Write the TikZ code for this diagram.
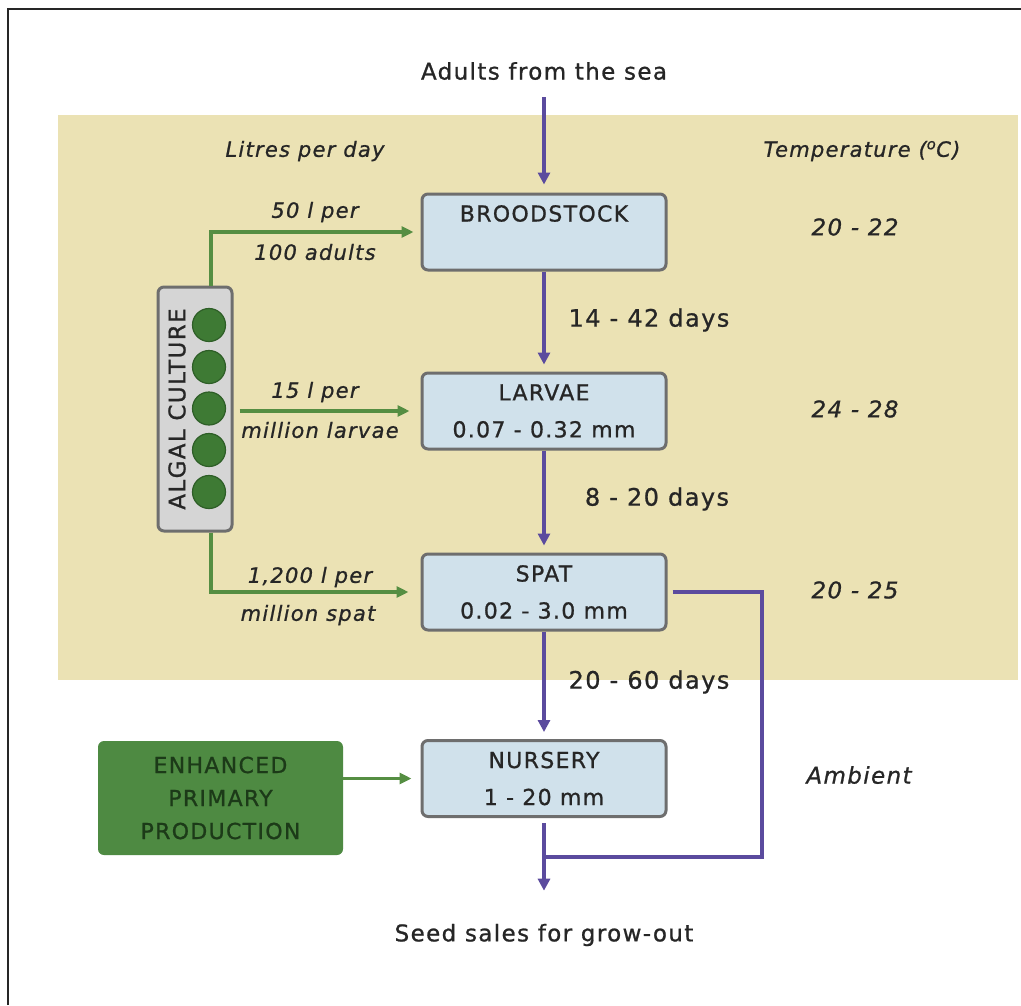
\documentclass[tikz,border=0pt]{standalone}
\usepackage{fontspec}
\setmainfont{DejaVu Sans}[LetterSpace=6, FakeBold=0.9]
\usetikzlibrary{arrows.meta,calc}
\definecolor{beige}{HTML}{EBE2B4}
\definecolor{boxblue}{HTML}{D0E1EB}
\definecolor{boxedge}{HTML}{6E6E6E}
\definecolor{purp}{HTML}{5B4B9E}
\definecolor{grn}{HTML}{558E42}
\definecolor{dkgrn}{HTML}{3E7A34}
\definecolor{circedge}{HTML}{2E5E27}
\definecolor{enhfill}{HTML}{4E8A42}
\definecolor{enhtext}{HTML}{1C3A18}
\definecolor{txt}{HTML}{262626}
\definecolor{algfill}{HTML}{D5D5D5}
\tikzset{
  stagebox/.style={draw=boxedge, line width=3pt, fill=boxblue, rounded corners=6pt,
    minimum width=244pt, minimum height=76pt, align=center, inner sep=0pt,
    font=\fontsize{22}{37}\selectfont, text=txt},
  plain/.style={inner sep=0pt, text=txt, font=\fontsize{23}{28}\selectfont},
  dayslbl/.style={inner sep=0pt, text=txt, font=\fontsize{24}{28}\selectfont},
  itlbl/.style={inner sep=0pt, text=txt, font=\fontsize{21}{26}\selectfont\itshape},
  templbl/.style={inner sep=0pt, text=txt, font=\fontsize{23}{26}\selectfont\itshape},
  pline/.style={draw=purp, line width=3.5pt, -{Triangle[length=12pt,width=12pt]}},
  ploop/.style={draw=purp, line width=3.5pt},
  gline/.style={draw=grn, line width=3.5pt, -{Triangle[length=12pt,width=11pt]}},
  algcirc/.style={circle, fill=dkgrn, draw=circedge, line width=1.2pt, minimum size=33pt, inner sep=0pt},
}
\begin{document}
\begin{tikzpicture}[x=1pt,y=-1pt]
\useasboundingbox (0,0) rectangle (1021,1005);
\fill[white] (0,0) rectangle (1021,1005);
% frame
\draw[line width=2pt, black!85] (8,1005) -- (8,9) -- (1021,9);
% beige hatchery area
\fill[beige] (58,115) rectangle (1018,680);

% headings
\node[plain] (adults) at (544,71) {Adults from the sea};
\node[itlbl] (litres) at (305,151) {Litres per day};
\node[itlbl] (temphead) at (862,151) {Temperature (\textsuperscript{o}C)};

% stages
\node[stagebox] (brood) at (544,232) {BROODSTOCK\\\phantom{0}};
\node[stagebox] (larv) at (544,411) {LARVAE\\0.07 - 0.32 mm};
\node[stagebox] (spat) at (544,592) {SPAT\\0.02 - 3.0 mm};
\node[stagebox] (nurs) at (544,778.5) {NURSERY\\1 - 20 mm};
\node[plain] (out) at (544,935) {Seed sales for grow-out};

% temperatures
\node[templbl] (t1) at (855,227) {20 - 22};
\node[templbl] (t2) at (855,409) {24 - 28};
\node[templbl] (t3) at (855,590) {20 - 25};
\node[templbl] (t4) at (859,775) {Ambient};

% durations
\node[dayslbl] (d1) at (649,320) {14 - 42 days};
\node[dayslbl] (d2) at (657,499) {8 - 20 days};
\node[dayslbl] (d3) at (649,682) {20 - 60 days};

% algal culture
\node[draw=boxedge, line width=3pt, fill=algfill, rounded corners=6pt,
      minimum width=74pt, minimum height=244pt, inner sep=0pt] (algal) at (195,409) {};
\node[inner sep=0pt, text=txt, rotate=90, font=\fontsize{23}{26}\selectfont] (algtext) at (177,409) {ALGAL CULTURE};
\node[algcirc] (c1) at (209,325) {};
\node[algcirc] (c2) at (209,367) {};
\node[algcirc] (c3) at (209,408.5) {};
\node[algcirc] (c4) at (209,450) {};
\node[algcirc] (c5) at (209,492) {};

% enhanced primary production
\node[draw=none, fill=enhfill, rounded corners=6pt, minimum width=245pt, minimum height=114pt,
      align=center, inner sep=0pt, text=enhtext, font=\fontsize{22}{33}\selectfont] (enh) at (220.5,798)
      {ENHANCED\\PRIMARY\\PRODUCTION};

% green feeds
\node[itlbl] (f1a) at (315,212) {50 l per};
\node[itlbl] (f1b) at (315,252) {100 adults};
\node[itlbl] (f2a) at (315,392) {15 l per};
\node[itlbl] (f2b) at (320,430) {million larvae};
\node[itlbl] (f3a) at (310,577) {1,200 l per};
\node[itlbl] (f3b) at (308,615) {million spat};

\draw[gline, shorten >=7pt] ([xshift=16pt]algal.north) |- (brood.west);
\draw[gline, shorten >=11pt, shorten <=6pt] (algal.east |- larv.west) -- (larv.west);
\draw[gline, shorten >=12pt] ([xshift=16pt]algal.south) |- (spat.west);
\draw[gline, shorten >=9pt] (enh.east |- nurs.west) -- (nurs.west);

% purple flow
\draw[pline, shorten <=17pt, shorten >=8pt] (adults.south) -- (brood.north);
\draw[pline, shorten >=7pt] (brood.south) -- (larv.north);
\draw[pline, shorten >=7pt] (larv.south) -- (spat.north);
\draw[pline, shorten >=7pt] (spat.south) -- (nurs.north);
\coordinate (joinpt) at (544,857);
\coordinate (loopc) at (762,857);
\draw[pline, shorten <=5pt, shorten >=33pt] (nurs.south) -- (out.north);
\draw[ploop] ([xshift=5pt]spat.east) -| (loopc) -- (joinpt);
\end{tikzpicture}
\end{document}
